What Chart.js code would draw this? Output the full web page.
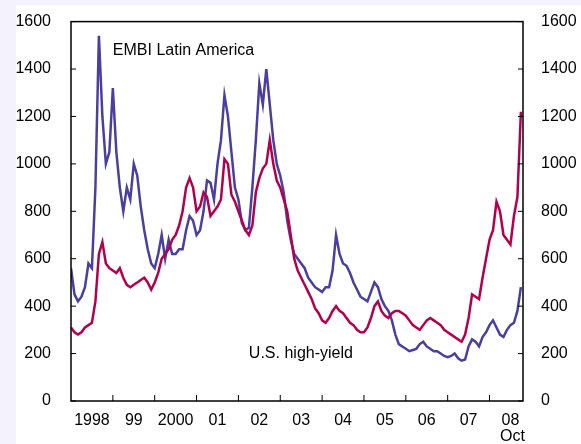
<!DOCTYPE html>
<html><head><meta charset="utf-8">
<script src="https://cdn.jsdelivr.net/npm/chart.js@4"></script>
<style>html,body{margin:0;padding:0;background:#f4f2fc}</style>
</head><body>
<canvas id="c" width="581" height="444" style="display:block;width:581px;height:444px"></canvas>
<script>
// monthly values, Jan 1998 .. Oct 2008
const startYear = 1998
const yearLabels = ['1998','99','2000','01','02','03','04','05','06','07','08']
const yTicks = [0,200,400,600,800,1000,1200,1400,1600]
const embi = [
 560,450,420,440,480,580,560,900,1540,1200,1000,1050,
 1320,1050,900,800,900,850,1000,950,820,720,640,580,
 560,620,700,600,680,620,620,640,640,720,780,760,
 700,720,800,930,920,850,1000,1100,1290,1200,1050,900,
 850,750,720,730,900,1100,1340,1250,1400,1250,1100,1000,
 950,880,760,680,620,600,580,560,520,500,480,470,
 460,480,480,550,700,620,580,570,540,500,470,440,
 430,420,460,500,480,430,400,380,340,280,240,230,
 220,210,215,220,240,250,230,220,210,210,200,190,
 185,190,200,180,170,175,230,260,250,230,270,290,
 320,340,310,280,270,300,320,330,380,480]
const highYield = [
 310,290,280,290,310,320,330,420,620,670,580,560,
 550,540,560,520,490,480,490,500,510,520,500,470,
 500,540,600,620,640,680,700,740,800,900,940,900,
 800,820,880,860,780,800,820,850,1020,1000,870,840,
 800,760,720,700,740,880,940,980,1000,1100,1000,930,
 900,850,800,700,600,550,520,490,460,430,390,370,
 340,330,350,380,400,380,370,350,330,320,300,290,
 290,310,350,400,420,380,360,350,370,380,380,370,
 360,340,320,310,300,320,340,350,340,330,320,300,
 290,280,270,260,250,280,350,450,440,430,520,600,
 680,720,840,800,700,680,660,780,860,1220]

const toXY = arr => arr.map((v,i) => ({x: startYear + i/12, y: v}))
const font = {family:'"Liberation Sans", Arial, sans-serif', size:16}

const frame = {
  id:'frame',
  beforeDraw(chart){
    const c = chart.ctx
    c.save()
    c.fillStyle = '#f4f2fc'; c.fillRect(0,0,chart.width,chart.height)
    c.fillStyle = '#fff'; c.fillRect(16,5,chart.width-16,chart.height-5)
    c.restore()
  },
  afterDraw(chart){
    const c = chart.ctx, a = chart.chartArea
    const xs = chart.scales.x, ys = chart.scales.y
    c.save()
    c.strokeStyle = '#000'; c.lineWidth = 1.5
    c.strokeRect(a.left, a.top, a.right-a.left, a.bottom-a.top)
    c.lineWidth = 1
    c.beginPath()
    yTicks.forEach(v => {
      const p = ys.getPixelForValue(v)
      c.moveTo(a.left,p); c.lineTo(a.left+5,p)
      c.moveTo(a.right,p); c.lineTo(a.right-5,p)
    })
    for (let yr = startYear+1; yr <= 2008; yr++) {
      const p = xs.getPixelForValue(yr)
      c.moveTo(p,a.bottom); c.lineTo(p,a.bottom-6)
    }
    c.stroke()
    c.fillStyle = '#000'
    c.font = '16px "Liberation Sans", Arial, sans-serif'
    c.textAlign = 'center'
    c.fillText('Oct', xs.getPixelForValue(2008.55), 441)
    c.textAlign = 'left'
    c.fillText('EMBI Latin America', xs.getPixelForValue(1999.0), ys.getPixelForValue(1460))
    c.fillText('U.S. high-yield', xs.getPixelForValue(2002.25), ys.getPixelForValue(180))
    c.restore()
  }
}

new Chart(document.getElementById('c'), {
  type: 'line',
  data: {
    datasets: [
      {data: toXY(highYield), borderColor:'#b3004d', borderWidth:2.5, pointRadius:0, tension:0},
      {data: toXY(embi), borderColor:'#4a3f9f', borderWidth:2.5, pointRadius:0, tension:0}
    ]
  },
  options: {
    responsive:false, animation:false,
    layout:{padding:{top:16}},
    plugins:{legend:{display:false}, tooltip:{enabled:false}},
    scales:{
      x:{type:'linear', min:startYear, max:2008.8,
        afterBuildTicks: s => { s.ticks = yearLabels.map((l,i) => ({value: startYear+i+0.5})) },
        afterFit: s => { s.height = 43 },
        grid:{display:false}, border:{display:false},
        ticks:{font, color:'#000', padding:2, maxRotation:0, autoSkip:false,
          callback:(v,i) => yearLabels[i]}},
      y:{min:0, max:1600, position:'left',
        afterBuildTicks: s => { s.ticks = yTicks.map(v => ({value:v})) },
        afterFit: s => { s.width = 71 },
        grid:{display:false}, border:{display:false},
        ticks:{font, color:'#000', padding:12, callback: v => String(v)}},
      y2:{min:0, max:1600, position:'right',
        afterBuildTicks: s => { s.ticks = yTicks.map(v => ({value:v})) },
        afterFit: s => { s.width = 58 },
        grid:{display:false}, border:{display:false},
        ticks:{font, color:'#000', padding:10, callback: v => String(v)}}
    }
  },
  plugins:[frame]
})
</script>
</body></html>
